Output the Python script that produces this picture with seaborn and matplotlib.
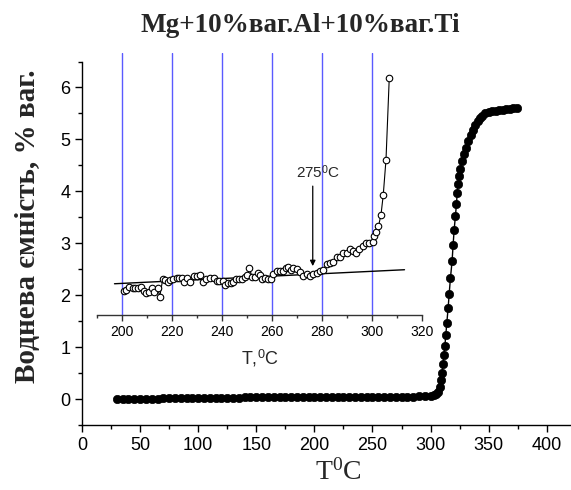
import matplotlib
matplotlib.use("Agg")
import matplotlib.pyplot as plt
from matplotlib.ticker import MultipleLocator
import seaborn as sns
import pandas as pd

# ---------------- data ----------------
main_T = [30, 35, 40, 45, 50, 55, 60, 65, 70, 75, 80, 85, 90, 95, 100, 105, 110, 115,
          120, 125, 130, 135, 140, 145, 150, 155, 160, 165, 170, 175, 180, 185, 190,
          195, 200, 205, 210, 215, 220, 225, 230, 235, 240, 245, 250, 255, 260, 265,
          270, 275, 280, 285, 290, 295, 300, 303, 305, 306.8, 307.9, 308.8, 309.9,
          310.8, 311.4, 312.3, 313.1, 314.0, 315.1, 316.0, 317.1, 318.5, 319.4, 320.3,
          321.4, 322.3, 322.9, 323.7, 324.6, 325.6, 326.8, 328.5, 330.5, 332.5, 334.5,
          336.5, 338.5, 340.5, 342.5, 344.5, 347, 350, 353, 356, 359, 362, 365, 368,
          371, 374]
main_H = [0.00, 0.00, 0.00, 0.01, 0.01, 0.01, 0.01, 0.01, 0.02, 0.02, 0.02, 0.02, 0.02,
          0.02, 0.02, 0.02, 0.02, 0.02, 0.02, 0.02, 0.02, 0.02, 0.03, 0.03, 0.03, 0.03,
          0.03, 0.03, 0.03, 0.03, 0.03, 0.03, 0.03, 0.03, 0.03, 0.03, 0.03, 0.03, 0.03,
          0.03, 0.03, 0.03, 0.03, 0.03, 0.03, 0.04, 0.04, 0.04, 0.04, 0.04, 0.04, 0.04,
          0.05, 0.05, 0.06, 0.07, 0.09, 0.14, 0.24, 0.37, 0.51, 0.67, 0.85, 1.02, 1.23,
          1.47, 1.75, 2.02, 2.33, 2.65, 2.97, 3.26, 3.53, 3.76, 3.96, 4.14, 4.29, 4.43,
          4.58, 4.72, 4.84, 4.97, 5.08, 5.18, 5.28, 5.36, 5.42, 5.46, 5.50, 5.52, 5.54,
          5.55, 5.56, 5.57, 5.58, 5.59, 5.60, 5.61]

inset_T = [200.7, 201.6, 202.9, 204.3, 205.3, 206.4, 207.6, 208.7, 209.7, 210.7, 212.0,
           212.9, 214.3, 215.1, 216.3, 217.3, 218.3, 219.3, 220.6, 222.0, 223.0, 224.0,
           225.0, 226.0, 227.3, 228.7, 230.0, 231.3, 232.4, 233.7, 235.3, 236.7, 238.0,
           239.0, 240.4, 241.3, 242.4, 243.6, 244.6, 245.7, 246.9, 248.1, 249.3, 250.2,
           251.0, 252.0, 253.3, 254.4, 255.3, 256.2, 257.3, 258.4, 259.6, 260.6, 262.0,
           263.3, 264.4, 265.6, 266.6, 267.6, 268.6, 270.0, 271.3, 272.6, 274.0, 275.3,
           276.6, 278.0, 279.3, 280.6, 282.0, 283.3, 284.6, 285.9, 287.3, 288.6, 290.0,
           291.3, 292.6, 293.7, 295.0, 296.6, 297.7, 299.0, 300.3, 300.9, 301.7, 302.6,
           303.6, 304.5, 305.6, 306.9]
inset_H = [2.09, 2.10, 2.15, 2.13, 2.13, 2.13, 2.16, 2.08, 2.05, 2.06, 2.13, 2.06, 2.13,
           1.97, 2.31, 2.29, 2.26, 2.29, 2.31, 2.33, 2.33, 2.33, 2.25, 2.33, 2.25, 2.36,
           2.36, 2.38, 2.26, 2.31, 2.33, 2.33, 2.27, 2.27, 2.27, 2.19, 2.23, 2.24, 2.25,
           2.31, 2.31, 2.32, 2.35, 2.38, 2.52, 2.35, 2.35, 2.43, 2.39, 2.31, 2.33, 2.32,
           2.32, 2.41, 2.47, 2.47, 2.47, 2.52, 2.54, 2.49, 2.52, 2.50, 2.45, 2.36, 2.41,
           2.37, 2.41, 2.43, 2.46, 2.49, 2.61, 2.62, 2.63, 2.73, 2.73, 2.81, 2.82, 2.88,
           2.85, 2.82, 2.89, 2.95, 3.00, 3.01, 3.03, 3.14, 3.22, 3.33, 3.55, 3.93, 4.61,
           6.18]

fit_T = [197, 313]
fit_H = [2.22, 2.49]

grid_T = [200, 220, 240, 260, 280, 300]
arrow_T = 276.3
arrow_from_H = 4.10
arrow_to_H = 2.56
onset_label = "275$^\\mathsf{0}$C"

title = "Mg+10%ваг.Al+10%ваг.Ti"
ylabel = "Воднева ємність, % ваг."
xlabel = "T$^0$C"
inset_xlabel = "T,$^\\mathsf{0}$C"

# ---------------- style ----------------
sns.set_style("ticks")
plt.rcParams["font.family"] = ["Liberation Sans", "DejaVu Sans"]
plt.rcParams["mathtext.fontset"] = "custom"
plt.rcParams["mathtext.rm"] = "Liberation Serif"
plt.rcParams["mathtext.sf"] = "Liberation Sans"
plt.rcParams["mathtext.it"] = "Liberation Serif:italic"
plt.rcParams["mathtext.bf"] = "Liberation Serif:bold"

W, H = 571, 490
fig = plt.figure(figsize=(W / 100, H / 100), dpi=100)

def frac(x0, y0, x1, y1):
    return [x0 / W, 1 - y1 / H, (x1 - x0) / W, (y1 - y0) / H]

# main axes
ax = fig.add_axes(frac(82, 61.5, 570, 425))
ax.set_xlim(0, 420)
ax.set_ylim(-0.5, 6.5)

df_main = pd.DataFrame({"T": main_T, "H": main_H})
sns.lineplot(data=df_main, x="T", y="H", ax=ax, color="black", lw=1.0,
             sort=False, estimator=None)
sns.scatterplot(data=df_main, x="T", y="H", ax=ax, color="black", s=36,
                edgecolor="black", linewidth=0.5, zorder=3)

for s in ["top", "right"]:
    ax.spines[s].set_visible(False)
for s in ["left", "bottom"]:
    ax.spines[s].set_linewidth(1.0)
    ax.spines[s].set_color("black")
ax.xaxis.set_major_locator(MultipleLocator(50))
ax.xaxis.set_minor_locator(MultipleLocator(25))
ax.yaxis.set_major_locator(MultipleLocator(1))
ax.yaxis.set_minor_locator(MultipleLocator(0.5))
ax.tick_params(which="major", direction="out", length=5, width=1, labelsize=13,
               colors="black")
ax.tick_params(which="minor", direction="out", length=3, width=1, colors="black")
ax.set_xlabel("")
ax.set_ylabel("")

fig.text(338 / W, 1 - 472 / H, xlabel, ha="center", va="center", fontsize=20,
         family="Liberation Serif")
fig.text(28 / W, 1 - 226 / H, ylabel, ha="center", va="center", rotation=90,
         fontsize=21, fontweight="bold", family="Liberation Serif")
fig.text(300 / W, 1 - 26 / H, title, ha="center", va="center", fontsize=19.5,
         fontweight="bold", family="Liberation Serif")

# inset axes (shares main y scale)
ins_top, ins_bot = 53, 315.5
def y_of(py):
    # pixel row -> main data value
    return -0.5 + (425 - py) / (425 - 61.5) * 7.0
axi = fig.add_axes(frac(97, ins_top, 422, ins_bot), facecolor="none")
axi.set_xlim(190, 320)
axi.set_ylim(y_of(ins_bot), y_of(ins_top))

for t in grid_T:
    axi.axvline(t, color="#5a5aff", lw=1.0, zorder=0)

df_fit = pd.DataFrame({"T": fit_T, "H": fit_H})
sns.lineplot(data=df_fit, x="T", y="H", ax=axi, color="black", lw=1.0,
             estimator=None)

df_in = pd.DataFrame({"T": inset_T, "H": inset_H})
sns.lineplot(data=df_in, x="T", y="H", ax=axi, color="black", lw=0.8,
             estimator=None, sort=False)
sns.scatterplot(data=df_in, x="T", y="H", ax=axi, facecolor="white",
                edgecolor="black", linewidth=0.8, s=22, zorder=3)

axi.annotate("", xy=(arrow_T, arrow_to_H), xytext=(arrow_T, arrow_from_H),
             arrowprops=dict(arrowstyle="-|>", color="black", lw=0.9,
                             mutation_scale=8, shrinkA=0, shrinkB=0))
axi.text(arrow_T + 2, arrow_from_H + 0.1, onset_label, ha="center", va="bottom",
         fontsize=11)

for s in ["top", "right", "left"]:
    axi.spines[s].set_visible(False)
axi.spines["bottom"].set_linewidth(1.0)
axi.spines["bottom"].set_color("#333333")
axi.set_yticks([])
axi.xaxis.set_major_locator(MultipleLocator(20))
axi.xaxis.set_minor_locator(MultipleLocator(10))
axi.tick_params(axis="x", which="major", direction="out", length=4, width=1,
                labelsize=10, pad=3, colors="#333333", labelcolor="black")
axi.tick_params(axis="x", which="minor", direction="out", length=2.5, width=1,
                colors="#333333")
axi.set_xlabel(inset_xlabel, fontsize=13, labelpad=6)
axi.set_ylabel("")

fig.savefig("out.png", dpi=100)
